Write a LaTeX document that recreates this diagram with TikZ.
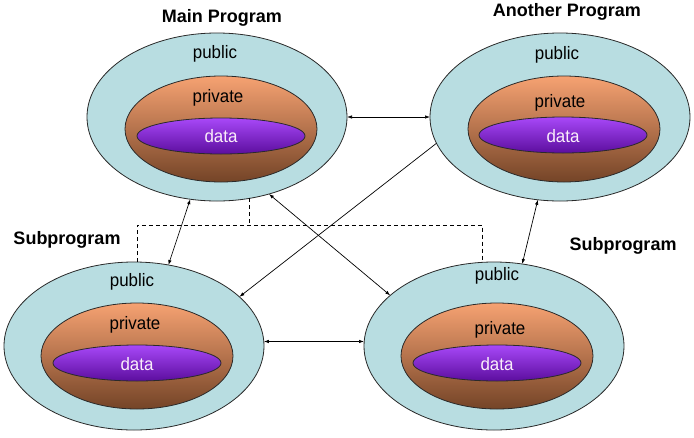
\documentclass[tikz,border=0pt]{standalone}
\usepackage{fontspec}
\setmainfont{Liberation Sans}
\newfontfamily\labelfont[FakeStretch=0.94]{Liberation Sans}
\usetikzlibrary{shapes.geometric,arrows.meta}
\definecolor{outerfill}{HTML}{B8DDE1}
\definecolor{orangetop}{HTML}{F6A272}
\definecolor{orangemid}{HTML}{DE854C}
\definecolor{orangebot}{HTML}{744427}
\definecolor{purpletop}{HTML}{A848F8}
\definecolor{purplebot}{HTML}{5C0E9E}
\definecolor{datatext}{HTML}{FAEEFA}
\definecolor{edge}{HTML}{2A2A2A}
\begin{document}
\begin{tikzpicture}[x=1pt,y=-1pt,
  outerell/.style={ellipse, draw=edge, line width=0.8pt, fill=outerfill,
    minimum width=260pt, minimum height=168pt, inner sep=0pt, outer sep=0pt},
  innerell/.style={ellipse, draw=edge, line width=0.8pt,
    top color=orangetop, middle color=orangemid, bottom color=orangebot,
    minimum width=192pt, minimum height=106pt, inner sep=0pt, outer sep=0pt},
  dataell/.style={ellipse, draw=edge, line width=0.8pt,
    top color=purpletop, bottom color=purplebot,
    minimum width=168pt, minimum height=36pt, inner sep=0pt, outer sep=0pt},
  titletext/.style={font=\bfseries\fontsize{18}{20}\selectfont, inner sep=0pt},
  labeltext/.style={font=\labelfont\fontsize{18}{20}\selectfont, inner sep=0pt},
  datalabel/.style={font=\labelfont\fontsize{18}{20}\selectfont, text=datatext, inner sep=0pt},
  conn/.style={{Latex[length=5pt,width=3.5pt]}-{Latex[length=5pt,width=3.5pt]}, line width=0.7pt},
  oneway/.style={-{Latex[length=5pt,width=3.5pt]}, line width=0.7pt},
  dashline/.style={dash pattern=on 4pt off 3pt, line width=0.8pt}
]
\fill[white] (0,0) rectangle (694,437);
\useasboundingbox (0,0) rectangle (694,437);

% Main Program
\node[outerell] (main) at (217,117) {};
\node[innerell] (mainpriv) at (221,129) {};
\node[dataell] (maindata) at (221,136) {};
\node[titletext] (maintitle) at (222,18) {Main Program};
\node[labeltext] (mainpub) at (215,54) {public};
\node[labeltext] (mainprivt) at (218,98) {private};
\node[datalabel] (maindatat) at (221,136) {data};

% Another Program
\node[outerell] (anoth) at (560,117) {};
\node[innerell] (anothpriv) at (564,129) {};
\node[dataell] (anothdata) at (563,135) {};
\node[titletext] (anothtitle) at (567,12) {Another Program};
\node[labeltext] (anothpub) at (557,55) {public};
\node[labeltext] (anothprivt) at (560,103) {private};
\node[datalabel] (anothdatat) at (563,136) {data};

% Subprogram bottom left
\node[outerell] (bl) at (134,346) {};
\node[innerell] (blpriv) at (137,356) {};
\node[dataell] (bldata) at (137,363) {};
\node[titletext] (bltitle) at (67,240) {Subprogram};
\node[labeltext] (blpub) at (132,282) {public};
\node[labeltext] (blprivt) at (135,325) {private};
\node[datalabel] (bldatat) at (137,364) {data};

% Subprogram bottom right
\node[outerell] (br) at (494,346) {};
\node[innerell] (brpriv) at (497,356) {};
\node[dataell] (brdata) at (497,363) {};
\node[titletext] (brtitle) at (623,246) {Subprogram};
\node[labeltext] (brpub) at (497,276) {public};
\node[labeltext] (brprivt) at (500,330) {private};
\node[datalabel] (brdatat) at (497,364) {data};

% dashed grouping lines
\coordinate (dj) at (252,225);
\draw[dashline] (main.292.6) -- (main.292.6 |- dj);
\draw[dashline] (bl.88) |- (dj) -| (br.98);

% connectors
\draw[conn] (main.east) -- (anoth.west);
\draw[conn] (main.252.6) -- (bl.67.7);
\draw[conn] (main.304.8) -- (br.154.7);
\draw[oneway] (anoth.192.9) -- (bl.25.3);
\draw[conn] (br.71.6) -- (anoth.255.2);
\draw[conn] (bl.2.7) -- (bl.2.7 -| br.west);
\end{tikzpicture}
\end{document}
